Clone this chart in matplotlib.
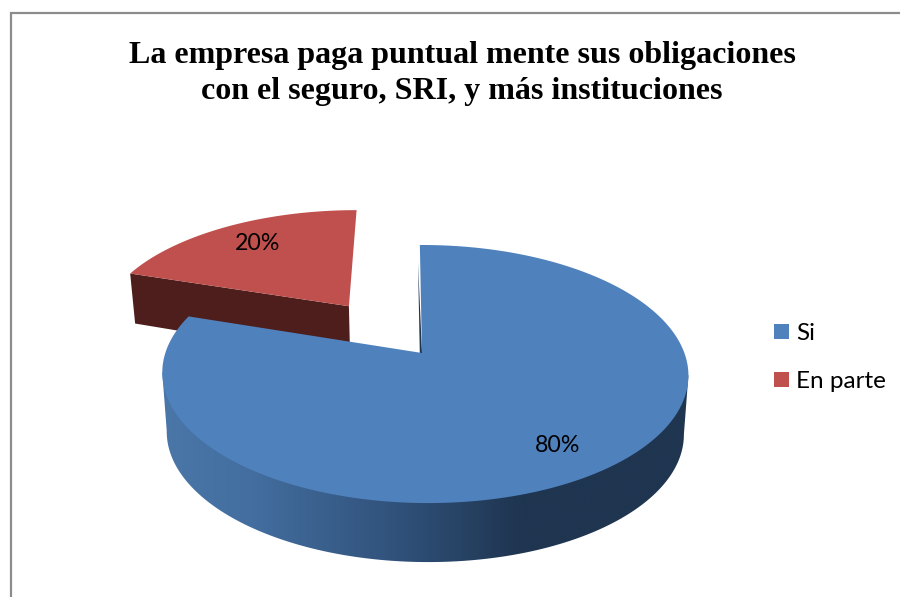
import numpy as np
import matplotlib
matplotlib.use('Agg')
import matplotlib.pyplot as plt
from matplotlib.colors import LinearSegmentedColormap
from matplotlib.patches import Polygon, Rectangle

title = 'La empresa paga puntual mente sus obligaciones\ncon el seguro, SRI, y más instituciones'
categories = ['Si', 'En parte']
values = [80, 20]
colors = ['#4F81BD', '#C0504D']

# pie geometry in pixels, the pie is a disc seen in perspective
x0, y0 = 422, 353
W, H = 259.5, 125.6
k, m, shear = 0.163, -0.011, 2.5
shrink = 0.983
explode = 0.49


def project(u, v, tilt=m):
    s = 1 / (1 + k * v + tilt * u)
    return x0 + (W * u - shear * v) * s, y0 - H * v * s, s


def bottom(u, v, tilt=m):
    x, y, s = project(u, v, tilt)
    return x0 + (x - x0) * shrink, y + np.interp(s, [0.897, 1.03, 1.195], [50, 59, 59])


def rim(a, offset=(0, 0)):
    return np.sin(a) + offset[0], np.cos(a) + offset[1]


fig = plt.figure(figsize=(9, 5.97), dpi=100)
ax = fig.add_axes([0, 0, 1, 1])
ax.axis('off')

# chart frame, only left and top show in the picture
ax.plot([10.5, 10.5, 900], [597, 12.5, 12.5], color='#8C8C8C', lw=1.6, solid_joinstyle='miter')

fractions = np.cumsum([0] + values) / sum(values) * 2 * np.pi
a0, a1 = fractions[0], fractions[1]

# red slice, pulled out along its middle angle
mid = (a1 + fractions[2]) / 2
off = (explode * np.sin(mid) - 0.008, explode * np.cos(mid))
ang = np.linspace(a1, fractions[2], 60)
u, v = rim(ang, off)
tx, ty, _ = project(u, v, 0)
cx, cy, _ = project(off[0], off[1], 0)
ex, ey = bottom(u[0], v[0], 0)
bx, by = bottom(off[0], off[1], 0)
ax.add_patch(Polygon([(tx[0], ty[0]), (cx, cy), (bx, by), (ex, ey)], fc='#4D1E1C', ec='none', zorder=2))
ax.add_patch(Polygon(np.r_[[[cx, cy]], np.c_[tx, ty]], fc=colors[1], ec='none', zorder=3))

# blue wall with the side gradient, straight sides from rim to rim
ang = np.linspace(np.radians(45), a1, 400)
u, v = rim(ang)
tx, ty, _ = project(u, v)
bx, by = bottom(u, v)
br, bl = np.argmax(bx), np.argmin(bx)
tr, tl = np.argmax(tx), np.argmin(tx)
wall = Polygon(np.r_[np.c_[bx, by][br:bl + 1], [[tx[tl], ty[tl]], [tx[tr], ty[tr]]]],
               fc='none', ec='none', zorder=4)
ax.add_patch(wall)
wall_cmap = LinearSegmentedColormap.from_list('wall', [
    (0.0, '#4A76A8'), (0.17, '#436E9F'), (0.45, '#30517A'),
    (0.68, '#1F3550'), (1.0, '#1F3550')])
im = ax.imshow(np.linspace(0, 1, 512)[None, :], extent=(162, 690, 570, 300), cmap=wall_cmap,
               aspect='auto', zorder=4)
im.set_clip_path(wall)

# thin dark sliver on the cut edge of the blue slice
r = np.linspace(0, 0.82, 20)
sx, sy, _ = project(0 * r, r)
ax.add_patch(Polygon(np.r_[np.c_[sx - 2.2, sy], [[sx[0], sy[0]]]], fc='#1F3550', ec='none', zorder=4))

# blue top
ang = np.linspace(a0, a1, 300)
u, v = rim(ang)
tx, ty, _ = project(u, v)
cx, cy, _ = project(0, 0)
ax.add_patch(Polygon(np.r_[[[cx, cy]], np.c_[tx, ty]], fc=colors[0], ec='none', zorder=5))

ax.set_xlim(0, 900)
ax.set_ylim(597, 0)

ax.text(462, 73.5, title, ha='center', va='center', family='Liberation Serif', weight='bold',
        fontsize=23, linespacing=1.29, color='black', zorder=6)

ax.text(558, 446, f'{values[0]}%', ha='center', va='center', family='Lato', fontsize=16.7, zorder=6)
ax.text(258, 243.5, f'{values[1]}%', ha='center', va='center', family='Lato', fontsize=16.7, zorder=6)

legend_y = [331.5, 379.5]
for name, color, y in zip(categories, colors, legend_y):
    ax.add_patch(Rectangle((774, y - 7.5), 15, 15, fc=color, ec='none', zorder=6))
    ax.text(796, y + 1.5, name, ha='left', va='center', family='Lato', fontsize=17.5, zorder=6)

fig.savefig('out.png', dpi=100)
